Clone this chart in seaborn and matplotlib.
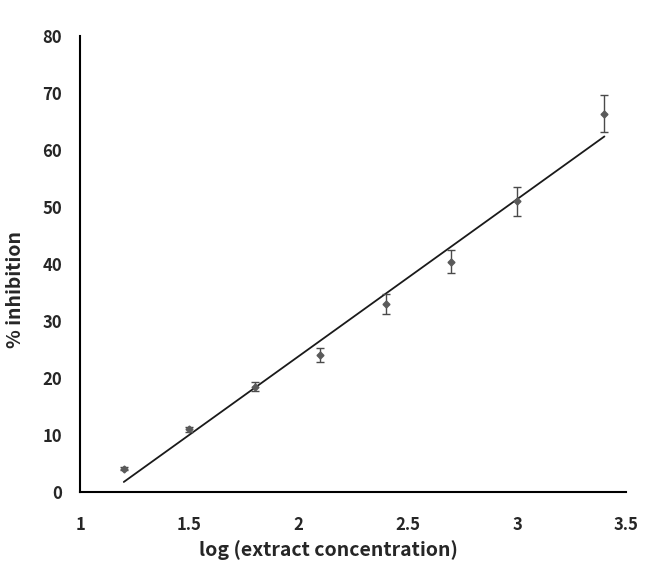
import numpy as np
import pandas as pd
import matplotlib
matplotlib.use('Agg')
import matplotlib.pyplot as plt
import seaborn as sns

# データ
log_conc = [1.2, 1.5, 1.8, 2.1, 2.4, 2.7, 3.0, 3.4]
inhibition = [4.1, 11.0, 18.5, 24.0, 33.0, 40.4, 51.0, 66.4]
inhibition_err = [0.3, 0.5, 0.8, 1.2, 1.7, 2.0, 2.5, 3.3]

x_ticks = [1, 1.5, 2, 2.5, 3, 3.5]
x_tick_labels = ['1', '1.5', '2', '2.5', '3', '3.5']
y_ticks = [0, 10, 20, 30, 40, 50, 60, 70, 80]

df = pd.DataFrame({'log_conc': log_conc, 'inhibition': inhibition, 'err': inhibition_err})

sns.set_style('white')
plt.rcParams['font.family'] = ['Noto Sans CJK KR', 'DejaVu Sans']

fig = plt.figure(figsize=(6.62, 5.81), dpi=100)
ax = fig.add_axes([0.121, 0.153, 0.825, 0.785])

# 回帰直線
sns.regplot(data=df, x='log_conc', y='inhibition', scatter=False, ci=None,
            color='#1a1a1a', line_kws={'linewidth': 1.3}, ax=ax)

# データ点とエラーバー
ax.errorbar(df['log_conc'], df['inhibition'], yerr=df['err'], fmt='D',
            color='#5a5a5a', markersize=3.5, ecolor='#4a4a4a', elinewidth=1.0,
            capsize=3, capthick=1.0, zorder=3)

ax.set_xlim(1, 3.5)
ax.set_ylim(0, 80)
ax.set_xticks(x_ticks)
ax.set_xticklabels(x_tick_labels)
ax.set_yticks(y_ticks)
ax.tick_params(axis='both', length=0, labelsize=12)
ax.tick_params(axis='y', pad=13)
ax.tick_params(axis='x', pad=17)
for lab in ax.get_xticklabels() + ax.get_yticklabels():
    lab.set_fontweight('bold')

ax.set_xlabel('log (extract concentration)', fontsize=14, fontweight='bold')
ax.set_ylabel('% inhibition', fontsize=14, fontweight='bold')
ax.xaxis.set_label_coords(0.454, -0.105)
ax.yaxis.set_label_coords(-0.10, 0.445)

for side in ['top', 'right']:
    ax.spines[side].set_visible(False)
for side in ['left', 'bottom']:
    ax.spines[side].set_color('black')
    ax.spines[side].set_linewidth(1.5)

fig.savefig('out.png', dpi=100)
